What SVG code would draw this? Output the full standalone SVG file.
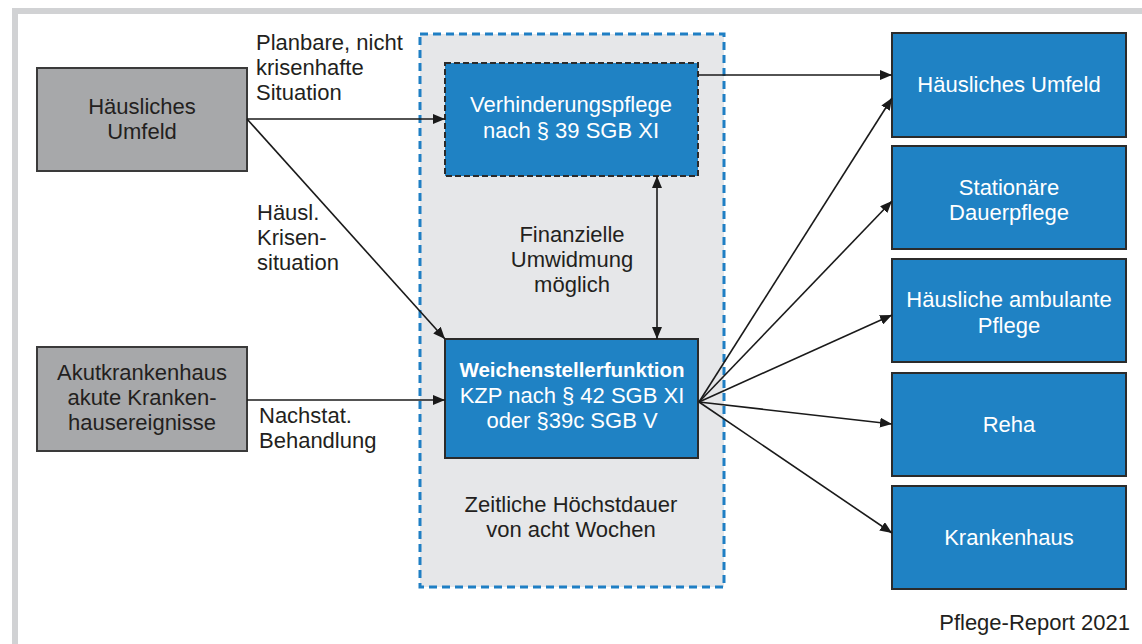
<svg xmlns="http://www.w3.org/2000/svg" width="1142" height="644" viewBox="0 0 1142 644">
<defs>
<style>
text{font-family:"Liberation Sans",Arial,sans-serif;font-size:22px;fill:#231f20}
.c{text-anchor:middle}
.w{fill:#ffffff}
.b{font-weight:bold;font-size:20.5px}
.grey{fill:#a7a8aa;stroke:#3a3a3a;stroke-width:2}
.blue{fill:#1f82c4;stroke:#2b2b2b;stroke-width:2}
.conn line{stroke:#1a1a1a;stroke-width:1.6;fill:none}
</style>
<marker id="ah" viewBox="0 0 12 10" refX="12" refY="5" markerWidth="12" markerHeight="10" markerUnits="userSpaceOnUse" orient="auto-start-reverse">
<path d="M0,0 L12,5 L0,10 Z" fill="#1a1a1a"/>
</marker>
</defs>
<rect width="1142" height="644" fill="#ffffff"/>
<path d="M15,644 V11 H1142" fill="none" stroke="#d1d2d4" stroke-width="6"/>

<g id="container">
<rect x="420" y="34" width="304" height="553" fill="#e6e7e9" stroke="#1f7fc4" stroke-width="3" stroke-dasharray="8,5"/>
<text class="c" x="571" y="512">Zeitliche Höchstdauer</text>
<text class="c" x="571" y="537">von acht Wochen</text>
</g>

<g id="src-haeuslich">
<rect class="grey" x="37" y="68" width="210" height="103"/>
<text class="c" x="142" y="114">Häusliches</text>
<text class="c" x="142" y="139">Umfeld</text>
</g>

<g id="src-akut">
<rect class="grey" x="37" y="347" width="210" height="104"/>
<text class="c" x="142" y="380">Akutkrankenhaus</text>
<text class="c" x="142" y="405">akute Kranken-</text>
<text class="c" x="142" y="430">hausereignisse</text>
</g>

<g id="verhinderung">
<rect x="445" y="63" width="253" height="113" fill="#1f82c4" stroke="#2b2b2b" stroke-width="2" stroke-dasharray="6,3"/>
<text class="c w" x="571" y="112">Verhinderungspflege</text>
<text class="c w" x="571" y="138">nach § 39 SGB XI</text>
</g>

<g id="weichensteller">
<rect class="blue" x="445" y="339" width="253" height="119"/>
<text class="c w b" x="572" y="377">Weichenstellerfunktion</text>
<text class="c w" x="572" y="403">KZP nach § 42 SGB XI</text>
<text class="c w" x="572" y="428">oder §39c SGB V</text>
</g>

<g id="finanzielle">
<text class="c" x="572" y="242">Finanzielle</text>
<text class="c" x="572" y="267">Umwidmung</text>
<text class="c" x="572" y="292">möglich</text>
</g>

<g id="dst-umfeld">
<rect class="blue" x="892" y="33" width="234" height="104"/>
<text class="c w" x="1009" y="92">Häusliches Umfeld</text>
</g>
<g id="dst-stationaer">
<rect class="blue" x="892" y="146" width="234" height="103"/>
<text class="c w" x="1009" y="195">Stationäre</text>
<text class="c w" x="1009" y="220">Dauerpflege</text>
</g>
<g id="dst-ambulant">
<rect class="blue" x="892" y="259" width="234" height="103"/>
<text class="c w" x="1009" y="307">Häusliche ambulante</text>
<text class="c w" x="1009" y="333">Pflege</text>
</g>
<g id="dst-reha">
<rect class="blue" x="892" y="373" width="234" height="103"/>
<text class="c w" x="1009" y="432">Reha</text>
</g>
<g id="dst-krankenhaus">
<rect class="blue" x="892" y="486" width="234" height="103"/>
<text class="c w" x="1009" y="545">Krankenhaus</text>
</g>

<g id="connectors" class="conn">
<line x1="247" y1="119" x2="445" y2="119" marker-end="url(#ah)"/>
<line x1="247" y1="119" x2="445" y2="339" marker-end="url(#ah)"/>
<line x1="247" y1="400" x2="445" y2="400" marker-end="url(#ah)"/>
<line x1="657" y1="176" x2="657" y2="339" marker-start="url(#ah)" marker-end="url(#ah)"/>
<line x1="698" y1="75" x2="892" y2="75" marker-end="url(#ah)"/>
<line x1="699" y1="402" x2="892" y2="98" marker-end="url(#ah)"/>
<line x1="699" y1="402" x2="892" y2="201" marker-end="url(#ah)"/>
<line x1="699" y1="402" x2="892" y2="315" marker-end="url(#ah)"/>
<line x1="699" y1="402" x2="892" y2="424" marker-end="url(#ah)"/>
<line x1="699" y1="402" x2="892" y2="533" marker-end="url(#ah)"/>
</g>

<g id="labels">
<text x="256" y="50">Planbare, nicht</text>
<text x="256" y="75">krisenhafte</text>
<text x="256" y="100">Situation</text>
<text x="257" y="220">Häusl.</text>
<text x="257" y="245">Krisen-</text>
<text x="257" y="270">situation</text>
<text x="259" y="423">Nachstat.</text>
<text x="259" y="448">Behandlung</text>
<text x="1130" y="630" text-anchor="end">Pflege-Report 2021</text>
</g>
</svg>
